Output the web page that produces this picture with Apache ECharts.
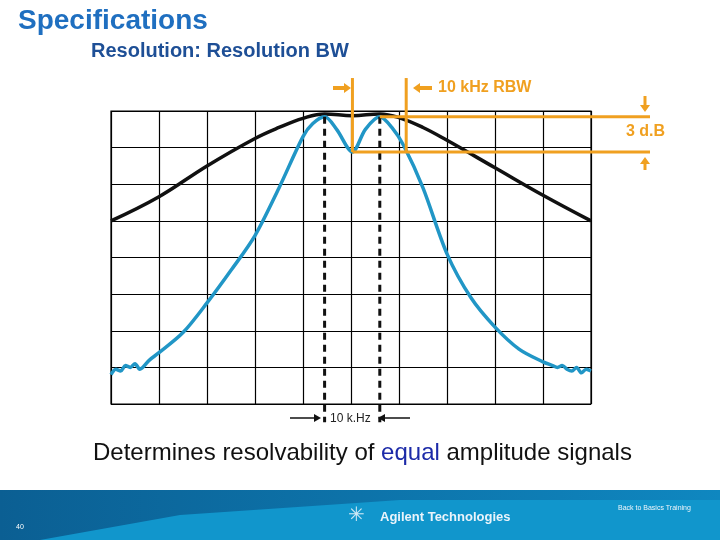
<!DOCTYPE html>
<html><head><meta charset="utf-8">
<script src="https://cdn.jsdelivr.net/npm/echarts@6/dist/echarts.min.js"></script>
<style>html,body{margin:0;padding:0;background:#fff}#c{width:720px;height:540px}</style>
</head><body><div id="c"></div>
<script>
const blueX = [0,0.1,0.2,0.3,0.4,0.5,0.6,0.8,1,1.5,2,2.5,3,3.5,4,4.2,4.45,4.7,5.03,5.3,5.6,5.85,6.1,6.5,7,7.5,8,8.5,9,9.2,9.3,9.4,9.5,9.6,9.7,9.8,9.9,10];
const blueY = [0.8,0.95,0.9,1.05,1.0,1.1,0.95,1.2,1.4,1.95,2.76,3.65,4.6,5.9,7.3,7.65,7.84,7.5,6.88,7.5,7.84,7.55,7.05,5.9,4.1,2.9,2.1,1.5,1.15,1.05,1.0,1.05,0.95,0.9,1.0,0.85,0.95,0.9];
const blackX = [0,1,2,3,3.5,4,4.45,5.03,5.6,6,6.5,7,8,9,10];
const blackY = [5.0,5.66,6.5,7.25,7.55,7.8,7.92,7.87,7.92,7.82,7.55,7.2,6.45,5.7,5.0];
const peakX = [4.45, 5.6];
const rbwX = [5.03, 6.15];
const levelTop = 7.84, levelBot = 6.88;

const chart = echarts.init(document.getElementById('c'));
const orange = '#f0a020';
const zip = (a,b)=>a.map((v,i)=>[v,b[i]]);
const seg = (pts, color, w, type, smooth) => ({type:'line', data:pts, symbol:'none', silent:true, z:5, clip:false,
  smooth:smooth||false, lineStyle:{color, width:w, type:type||'solid'}});
chart.setOption({
  animation:false,
  grid:{left:111, top:111, width:480, height:293, show:true, borderColor:'#000', borderWidth:1.2},
  xAxis:{type:'value', min:0, max:10, interval:1, axisLabel:{show:false}, axisTick:{show:false},
    axisLine:{show:false}, splitLine:{lineStyle:{color:'#000', width:1.2}}},
  yAxis:{type:'value', min:0, max:8, interval:1, axisLabel:{show:false}, axisTick:{show:false},
    axisLine:{show:false}, splitLine:{lineStyle:{color:'#000', width:1.2}}},
  series:[
    seg(zip(blackX,blackY), '#111', 3.5, null, 0.4),
    seg(zip(blueX,blueY), '#2196c6', 3.5, null, 0.3),
    seg([[peakX[0],levelTop],[peakX[0],-0.5]], '#111', 3, [7,5]),
    seg([[peakX[1],levelTop],[peakX[1],-0.5]], '#111', 3, [7,5]),
    seg([[rbwX[0],levelBot],[rbwX[0],8.9]], orange, 3),
    seg([[rbwX[1],levelBot],[rbwX[1],8.9]], orange, 3)
  ]
});
const pT0 = chart.convertToPixel({gridIndex:0}, [peakX[1], levelTop]);
const pB0 = chart.convertToPixel({gridIndex:0}, [rbwX[0], levelBot]);
const xEnd = 650;
chart.setOption({
  graphic:[
    {type:'line', shape:{x1:pT0[0],y1:pT0[1],x2:xEnd,y2:pT0[1]}, style:{stroke:orange,lineWidth:3}, z:10},
    {type:'line', shape:{x1:pB0[0],y1:pB0[1],x2:xEnd,y2:pB0[1]}, style:{stroke:orange,lineWidth:3}, z:10},
    {type:'line', shape:{x1:333,y1:88,x2:346,y2:88}, style:{stroke:orange,lineWidth:4}},
    {type:'polygon', shape:{points:[[344,83],[351,88],[344,93]]}, style:{fill:orange}},
    {type:'line', shape:{x1:432,y1:88,x2:418,y2:88}, style:{stroke:orange,lineWidth:4}},
    {type:'polygon', shape:{points:[[420,83],[413,88],[420,93]]}, style:{fill:orange}},
    {type:'text', left:438, top:80, style:{text:'10 kHz RBW', fill:orange, font:'bold 16px Arial, Liberation Sans'}},
    {type:'line', shape:{x1:645,y1:96,x2:645,y2:107}, style:{stroke:orange,lineWidth:3}},
    {type:'polygon', shape:{points:[[640,105],[645,112],[650,105]]}, style:{fill:orange}},
    {type:'line', shape:{x1:645,y1:170,x2:645,y2:162}, style:{stroke:orange,lineWidth:3}},
    {type:'polygon', shape:{points:[[640,164],[645,157],[650,164]]}, style:{fill:orange}},
    {type:'text', left:626, top:124, style:{text:'3 d.B', fill:orange, font:'bold 16px Arial, Liberation Sans'}},
    {type:'line', shape:{x1:290,y1:418,x2:316,y2:418}, style:{stroke:'#111',lineWidth:1.5}},
    {type:'polygon', shape:{points:[[314,414],[321,418],[314,422]]}, style:{fill:'#111'}},
    {type:'line', shape:{x1:410,y1:418,x2:383,y2:418}, style:{stroke:'#111',lineWidth:1.5}},
    {type:'polygon', shape:{points:[[385,414],[378,418],[385,422]]}, style:{fill:'#111'}},
    {type:'text', left:330, top:413, style:{text:'10 k.Hz', fill:'#222', font:'12px Arial, Liberation Sans'}},
    {type:'text', left:18, top:7, style:{text:'Specifications', fill:'#1f6fc0', font:'bold 28px Arial, Liberation Sans'}},
    {type:'text', left:91, top:41, style:{text:'Resolution: Resolution BW', fill:'#1e4f96', font:'bold 20px Arial, Liberation Sans'}},
    {type:'text', left:93, top:441, style:{rich:{a:{fill:'#111',font:'24px Arial, Liberation Sans'},b:{fill:'#1c2aa8',font:'24px Arial, Liberation Sans'}},
      text:'{a|Determines resolvability of }{b|equal}{a| amplitude signals}'}},
    {type:'rect', shape:{x:0,y:490,width:720,height:50}, style:{fill:new echarts.graphic.LinearGradient(0,0,1,0,[{offset:0,color:'#0b5f93'},{offset:1,color:'#0f87c0'}])}},
    {type:'polygon', shape:{points:[[40,540],[180,515],[400,500],[720,500],[720,540]]}, style:{fill:'#1196cc'}},
    {type:'text', left:348, top:506, style:{text:'\u2733', fill:'#cfe8f5', font:'20px DejaVu Sans'}},
    {type:'text', left:380, top:511, style:{text:'Agilent Technologies', fill:'#eaf4fb', font:'bold 13px Arial, Liberation Sans'}},
    {type:'text', left:618, top:505, style:{text:'Back to Basics Training', fill:'#eef6fb', font:'7px Arial, Liberation Sans'}},
    {type:'text', left:16, top:524, style:{text:'40', fill:'#fff', font:'7px Arial, Liberation Sans'}}
  ]
});
</script></body></html>
